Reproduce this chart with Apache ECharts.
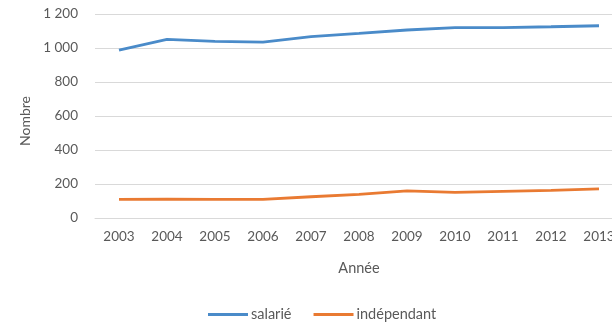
<!DOCTYPE html>
<html><head><meta charset="utf-8">
<script src="https://cdn.jsdelivr.net/npm/echarts@6/dist/echarts.min.js"></script>
<style>html,body{margin:0;padding:0;background:#fff}#c{width:612px;height:323px}</style>
</head><body><div id="c"></div>
<script>
const years = ['2003','2004','2005','2006','2007','2008','2009','2010','2011','2012','2013'];
const salarie = [988, 1051, 1039, 1034, 1067, 1086, 1106, 1120, 1120, 1125, 1131];
const independant = [110, 111, 110, 109, 125, 139, 159, 151, 157, 163, 171];
const yTicks = [0, 200, 400, 600, 800, 1000, 1200];

const chart = echarts.init(document.getElementById('c'));
const font = 'Lato, "Open Sans", sans-serif';
chart.setOption({
  animation: false,
  textStyle: {fontFamily: font},
  grid: {left: 95, top: 14, width: 528, height: 204, outerBoundsMode: 'none', containLabel: false},
  xAxis: {
    type: 'category', data: years, boundaryGap: true,
    name: 'Année', nameLocation: 'middle', nameGap: 43,
    nameTextStyle: {color: '#595959', fontSize: 14.5, fontFamily: font},
    axisLine: {show: true, lineStyle: {color: '#d9d9d9'}},
    axisTick: {show: false},
    axisLabel: {color: '#595959', fontSize: 13.5, margin: 12, fontFamily: font, hideOverlap: false}
  },
  yAxis: {
    type: 'value', min: 0, max: 1200, interval: 200,
    name: 'Nombre', nameLocation: 'middle', nameGap: 63, nameRotate: 90,
    nameTextStyle: {color: '#595959', fontSize: 14, fontFamily: font, padding: [0, 10, 0, 0]},
    axisLine: {show: false}, axisTick: {show: false},
    splitLine: {lineStyle: {color: '#d9d9d9'}},
    axisLabel: {color: '#595959', fontSize: 13.5, margin: 17, fontFamily: font,
      formatter: v => yTicks.includes(v) ? String(v).replace(/\B(?=(\d{3})+(?!\d))/g, ' ') : ''}
  },
  legend: {
    top: 302, left: 203, itemWidth: 40, itemHeight: 3, itemGap: 22,
    icon: 'rect',
    textStyle: {color: '#595959', fontSize: 14.5, fontFamily: font, padding: [0, 0, 0, -2]},
    data: ['salarié', 'indépendant']
  },
  series: [
    {name: 'salarié', type: 'line', data: salarie, showSymbol: false, symbol: 'none',
      lineStyle: {width: 2.8, color: '#4a8bc9'}, itemStyle: {color: '#4a8bc9'}},
    {name: 'indépendant', type: 'line', data: independant, showSymbol: false, symbol: 'none',
      lineStyle: {width: 2.8, color: '#e97a32'}, itemStyle: {color: '#e97a32'}}
  ]
});
</script></body></html>
